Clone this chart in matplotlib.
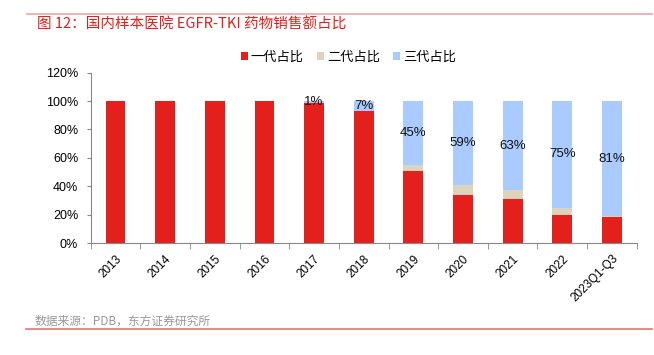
import matplotlib
matplotlib.use("Agg")
import matplotlib.pyplot as plt
import numpy as np
from matplotlib.ticker import FuncFormatter

plt.rcParams['font.family'] = ['Liberation Sans', 'Noto Sans CJK SC', 'DejaVu Sans']

categories = ["2013", "2014", "2015", "2016", "2017", "2018", "2019", "2020", "2021", "2022", "2023Q1-Q3"]
gen1 = [100, 100, 100, 100, 99, 93, 51, 34, 31, 20, 18]
gen2 = [0, 0, 0, 0, 0, 0, 4, 7, 6, 5, 1]
gen3 = [0, 0, 0, 0, 1, 7, 45, 59, 63, 75, 81]
series_names = ["一代占比", "二代占比", "三代占比"]
colors = ["#E3201B", "#DDD4BE", "#A9CBFF"]
title = "图 12：国内样本医院 EGFR-TKI 药物销售额占比"
source = "数据来源：PDB，东方证券研究所"

fig = plt.figure(figsize=(6.54, 3.55), dpi=100)
ax = fig.add_axes([90.7/654, 1 - 243/355, 546/654, (243 - 72.7)/355])

x = np.arange(len(categories))
w = 0.4
g1 = np.array(gen1); g2 = np.array(gen2); g3 = np.array(gen3)
ax.bar(x, g1, w, color=colors[0], label=series_names[0])
ax.bar(x, g2, w, bottom=g1, color=colors[1], label=series_names[1])
ax.bar(x, g3, w, bottom=g1 + g2, color=colors[2], label=series_names[2])

for i in range(len(categories)):
    if g3[i] > 0:
        ax.text(x[i], g1[i] + g2[i] + g3[i] / 2, f"{g3[i]}%", ha="center", va="center",
                fontsize=9.5, color="#111111")

ax.set_xlim(-0.5, len(categories) - 0.5)
ax.set_ylim(0, 120)
ax.set_yticks(np.arange(0, 121, 20))
ax.yaxis.set_major_formatter(FuncFormatter(lambda v, p: f"{int(v)}%"))
ax.set_xticks(x)
ax.set_xticklabels(categories, rotation=45, ha="right", rotation_mode="anchor", fontsize=8.5)
for lab in ax.get_xticklabels():
    lab.set_x(lab.get_position()[0])
ax.set_xticks(np.arange(-0.5, len(categories), 1), minor=True)
ax.tick_params(axis="x", which="major", length=0, pad=7)
ax.tick_params(axis="x", which="minor", length=4, color="#888888")
ax.tick_params(axis="y", length=3, color="#888888", labelsize=9, pad=6)
for s in ["top", "right"]:
    ax.spines[s].set_visible(False)
for s in ["left", "bottom"]:
    ax.spines[s].set_color("#888888")

fig.legend(loc="center", bbox_to_anchor=(348.5/654, 1 - 57/355), ncol=3, frameon=False,
           prop={"family": ["Noto Sans CJK SC"], "size": 9.5},
           handlelength=0.5, handleheight=0.5, handletextpad=0.25, columnspacing=1.0)

fig.text(37/654, 1 - 25/355, title, color="#E3201B", fontsize=10.5, va="center", ha="left",
         family=["Noto Sans CJK SC", "DejaVu Sans"])
fig.text(35/654, 1 - 320.7/355, source, color="#999999", fontsize=8.5, va="center", ha="left",
         family=["Noto Sans CJK SC", "DejaVu Sans"])
fig.add_artist(plt.Line2D([26.7/654, 652/654], [1 - 13.5/355, 1 - 13.5/355], color="#F2A3A3", lw=1.2))
fig.add_artist(plt.Line2D([26/654, 652/654], [1 - 329/355, 1 - 329/355], color="#E57373", lw=1.2))

fig.savefig("out.png", dpi=100)
